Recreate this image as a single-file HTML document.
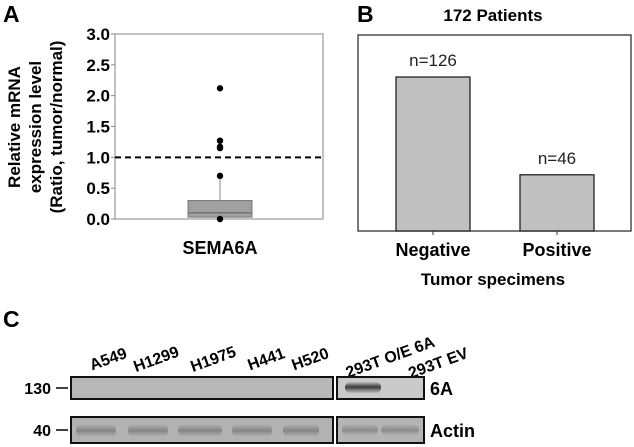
<!DOCTYPE html>
<html><head><meta charset="utf-8"><style>
html,body{margin:0;padding:0;background:#fff;}
svg{display:block;font-family:"Liberation Sans",Arial,sans-serif;}
</style></head><body>
<svg id="fig" width="634" height="447" viewBox="0 0 634 447" xmlns="http://www.w3.org/2000/svg">
<defs>
<linearGradient id="bandDark" x1="0" y1="0" x2="0" y2="1">
<stop offset="0" stop-color="#b4b4b4"/><stop offset="0.5" stop-color="#7a7a7a"/><stop offset="1" stop-color="#b4b4b4"/></linearGradient>
<linearGradient id="band6A" x1="0" y1="0" x2="0" y2="1">
<stop offset="0" stop-color="#bdbdbd"/><stop offset="0.45" stop-color="#3c3c3c"/><stop offset="1" stop-color="#bdbdbd"/></linearGradient>
</defs>
<!-- Panel A -->
<text x="3" y="22" font-size="23" font-weight="bold">A</text>
<g id="panelA"></g>
<!-- Panel B -->
<text x="357" y="22" font-size="23" font-weight="bold">B</text>
<text x="493" y="21" font-size="17" font-weight="bold" text-anchor="middle">172 Patients</text>
<g id="panelB"></g>
<text x="493" y="285" font-size="17" font-weight="bold" text-anchor="middle">Tumor specimens</text>
<!-- Panel C -->
<text x="3" y="327" font-size="23" font-weight="bold">C</text>
<g id="panelC"></g>
</svg>
<script>
// ---- Panel A data ----
const aTicks = [0.0, 0.5, 1.0, 1.5, 2.0, 2.5, 3.0];
const aTickLabels = ["0.0","0.5","1.0","1.5","2.0","2.5","3.0"];
const aCategory = ["SEMA6A"];
const aQ1 = [0.03];
const aMedian = [0.1];
const aQ3 = [0.3];
const aWhiskerHigh = [0.7];
const aOutliers = [2.12, 1.27, 1.17, 1.15, 0.7, 0.0];
const aRefLine = [1.0];
// ---- Panel B data ----
const bCategories = ["Negative", "Positive"];
const bValues = [126, 46];
const bLabels = ["n=126", "n=46"];
// ---- Panel C data ----
const cLanes = ["A549","H1299","H1975","H441","H520","293T O/E 6A","293T EV"];
const cMarkers = ["130","40"];
const cRows = ["6A","Actin"];

const NS = "http://www.w3.org/2000/svg";
function mk(tag, attrs, parent, text){
  const e = document.createElementNS(NS, tag);
  for (const k in attrs) e.setAttribute(k, attrs[k]);
  if (text !== undefined) e.textContent = text;
  parent.appendChild(e); return e;
}
// ---- Panel A ----
const gA = document.getElementById('panelA');
const aL = 115, aR = 323, aTop = 34, aBot = 219;
const yA = v => aBot - (v - 0) / (3.0 - 0) * (aBot - aTop);
let r = mk('rect', {x:aL, y:aTop, width:aR-aL, height:aBot-aTop, fill:'none', stroke:'#9a9a9a', 'stroke-width':1.2}, gA);


aTicks.forEach((t, i) => {
  const tk = mk('line', {x1:aL-4, x2:aL, y1:yA(t), y2:yA(t), stroke:'#888'}, gA);
  
  
  const tl = mk('text', {x:aL-5, y:yA(t)+6, 'font-size':17, 'font-weight':'bold', 'text-anchor':'end'}, gA, aTickLabels[i]);
  
  
});
const yt = mk('text', {transform:'translate(20,127) rotate(-90)', 'font-size':17, 'font-weight':'bold', 'text-anchor':'middle'}, gA);


[["Relative mRNA",0],["expression level",21],["(Ratio, tumor/normal)",42]].forEach(([s,dy]) => {
  mk('tspan', {x:0, y:dy}, yt, s);
});
const cx = 220, bw = 64;
const wh = mk('line', {x1:cx, x2:cx, y1:yA(aQ3[0]), y2:yA(aWhiskerHigh[0]), stroke:'#888', 'stroke-width':1}, gA);


const bx = mk('rect', {x:cx-bw/2, y:yA(aQ3[0]), width:bw, height:yA(aQ1[0])-yA(aQ3[0]), fill:'#a0a0a0', stroke:'#7a7a7a'}, gA);


const md = mk('line', {x1:cx-bw/2, x2:cx+bw/2, y1:yA(aMedian[0]), y2:yA(aMedian[0]), stroke:'#666', 'stroke-width':1.2}, gA);


const rl = mk('line', {x1:aL, x2:aR, y1:yA(aRefLine[0]), y2:yA(aRefLine[0]), stroke:'#000', 'stroke-width':2, 'stroke-dasharray':'6,4'}, gA);


aOutliers.forEach(v => {
  const c = mk('circle', {cx:cx, cy:yA(v), r:3.2, fill:'#000'}, gA);
  
  
});
const xl = mk('text', {x:cx, y:254, 'font-size':18, 'font-weight':'bold', 'text-anchor':'middle'}, gA, aCategory[0]);



// ---- Panel B ----
const gB = document.getElementById('panelB');
const bL = 358, bR = 631, bTop = 35, bBot = 231;
const yB = v => bBot - v * (154 / 126);
const xB = i => 433 + i * 124;
const barW = 74;
r = mk('rect', {x:bL, y:bTop, width:bR-bL, height:bBot-bTop, fill:'none', stroke:'#333', 'stroke-width':1.3}, gB);


bValues.forEach((v, i) => {
  const b = mk('rect', {x:xB(i)-barW/2, y:yB(v), width:barW, height:bBot-yB(v), fill:'#c0c0c0', stroke:'#222', 'stroke-width':1.3}, gB);
  
  
  const l = mk('text', {x:xB(i), y:yB(v)-11, 'font-size':17, 'text-anchor':'middle', fill:'#222'}, gB, bLabels[i]);
  
  
  const t = mk('line', {x1:xB(i), x2:xB(i), y1:bBot, y2:bBot+4, stroke:'#333'}, gB);
  
  
  const c = mk('text', {x:xB(i), y:256, 'font-size':18, 'font-weight':'bold', 'text-anchor':'middle'}, gB, bCategories[i]);
  
  
});

// ---- Panel C ----
const gC = document.getElementById('panelC');
const laneX = [110, 158, 215, 268, 312, 392, 440];
const laneY = [364, 364, 364, 364, 364, 362, 368];
cLanes.forEach((s, i) => {
  const t = mk('text', {transform:`translate(${laneX[i]},${laneY[i]}) rotate(-20)`, 'font-size':16, 'font-weight':'bold', 'text-anchor':'middle'}, gC, s);
  
  
});
const rowY = [[377,399],[417,443]];
rowY.forEach((ry, ri) => {
  const h = ry[1]-ry[0];
  const m = mk('text', {x:51, y:(ry[0]+ry[1])/2+6, 'font-size':16, 'font-weight':'bold', 'text-anchor':'end'}, gC, cMarkers[ri]);
  
  
  mk('line', {x1:56, x2:68, y1:(ry[0]+ry[1])/2, y2:(ry[0]+ry[1])/2, stroke:'#000', 'stroke-width':1.5}, gC);
  const s1 = mk('rect', {x:71, y:ry[0], width:262, height:h, fill: ri===0 ? '#b8b8b8' : '#b2b2b2', stroke:'#111', 'stroke-width':2}, gC);
  
  
  const s2 = mk('rect', {x:337, y:ry[0], width:87, height:h, fill: ri===0 ? '#cacaca' : '#b4b4b4', stroke:'#111', 'stroke-width':2}, gC);
  
  
  if (ri === 1) {
    [[76,40],[128,40],[178,44],[232,40],[283,36]].forEach(([x,w]) => {
      const b = mk('rect', {x:x, y:ry[0]+7, width:w, height:13, rx:6, fill:'url(#bandDark)', opacity:0.8}, gC);
      
      
    });
    [[342,36],[381,38]].forEach(([x,w]) => {
      const b = mk('rect', {x:x, y:ry[0]+7, width:w, height:12, rx:6, fill:'url(#bandDark)', opacity:0.7}, gC);
      
      
    });
  } else {
    const b = mk('rect', {x:345, y:ry[0]+5, width:36, height:11, rx:5, fill:'url(#band6A)'}, gC);
    
    
  }
  const rlab = mk('text', {x:430, y:(ry[0]+ry[1])/2+7, 'font-size':18, 'font-weight':'bold'}, gC, cRows[ri]);
  
  
});
</script>
</body></html>
